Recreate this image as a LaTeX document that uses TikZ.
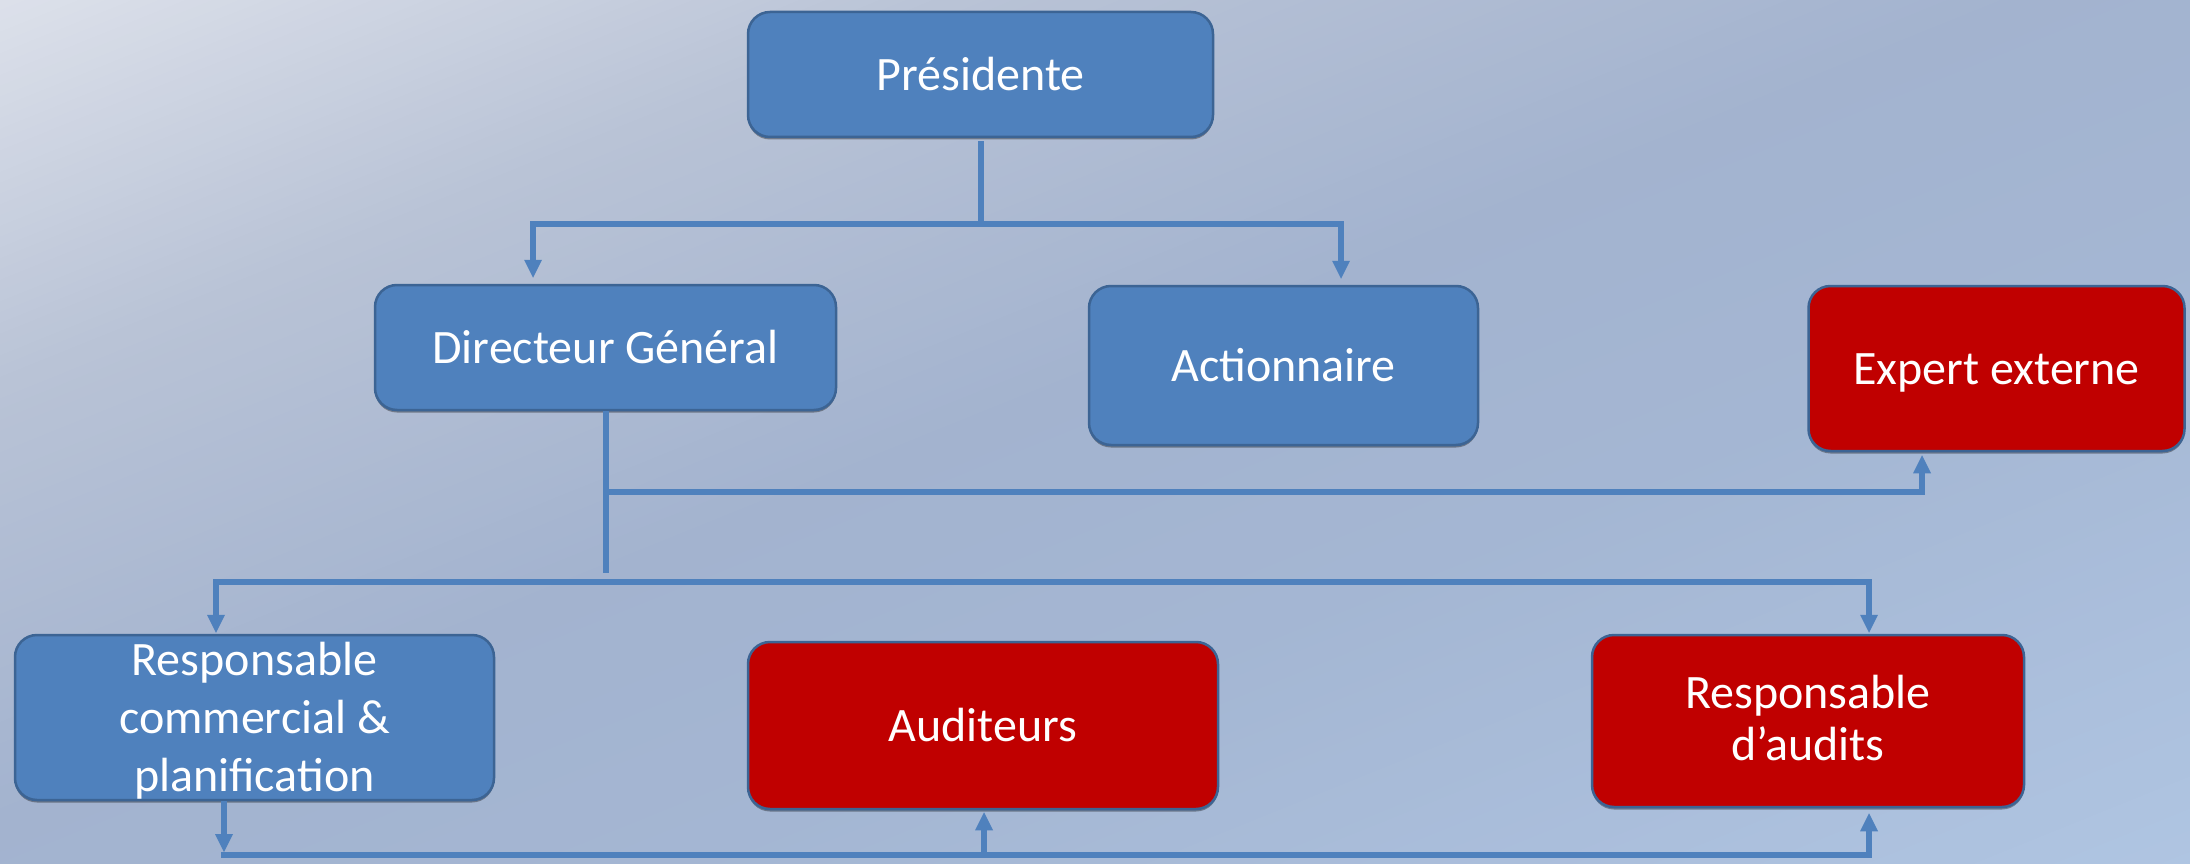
\documentclass[tikz,border=0pt]{standalone}
\usepackage{fontspec}
\setmainfont{Carlito}
\usetikzlibrary{arrows.meta,shadows}
\definecolor{bgA}{HTML}{DCE0EA}
\definecolor{bgB}{HTML}{B9C3D6}
\definecolor{bgC}{HTML}{A3B3CF}
\definecolor{bgD}{HTML}{A4B6D3}
\definecolor{bgE}{HTML}{B1C7E4}
\definecolor{boxblue}{HTML}{4F81BD}
\definecolor{boxred}{HTML}{C00000}
\definecolor{boxedge}{HTML}{3C6494}
\definecolor{conn}{HTML}{4F81BD}
\begin{document}
\begin{tikzpicture}[x=1pt,y=-1pt,
  box/.style={draw=boxedge, line width=2.5pt, rounded corners=22pt, text=white,
    font=\fontsize{48}{52}\selectfont, inner sep=0pt, align=center,
    drop shadow={shadow xshift=0pt, shadow yshift=-2.5pt, opacity=0.35, fill=black}},
  one/.style={text height=32pt, text depth=0pt},
  bluebox/.style={box, fill=boxblue},
  redbox/.style={box, fill=boxred},
  conline/.style={draw=conn, line width=6pt},
  arr/.style={conline, -{Triangle[width=18pt,length=18pt,line width=0pt]}}
]
\useasboundingbox (0,0) rectangle (2190,864);
% background gradient
\begin{scope}
  \clip (0,0) rectangle (2190,864);
  \begin{scope}[rotate=-68]
    \foreach \p in {0,10,...,340} {
      \pgfmathtruncatemacro\t{\p/3.5}
      \fill[bgB!\t!bgA] (\p,-3000) rectangle (\p+12,3000);
    }
    \foreach \p in {350,360,...,740} {
      \pgfmathtruncatemacro\t{(\p-350)/4}
      \fill[bgC!\t!bgB] (\p,-3000) rectangle (\p+12,3000);
    }
    \foreach \p in {750,760,...,1040} {
      \pgfmathtruncatemacro\t{(\p-750)/3}
      \fill[bgD!\t!bgC] (\p,-3000) rectangle (\p+12,3000);
    }
    \foreach \p in {1050,1060,...,1700} {
      \pgfmathtruncatemacro\t{(\p-1050)/6.5}
      \fill[bgE!\t!bgD] (\p,-3000) rectangle (\p+12,3000);
    }
  \end{scope}
\end{scope}

% boxes
\node[bluebox, one, minimum width=465pt, minimum height=125pt] (pres) at (980.5,74.5) {Présidente};
\node[bluebox, one, minimum width=461pt, minimum height=125pt] (dg) at (605.5,347.5) {Directeur Général};
\node[bluebox, one, minimum width=389pt, minimum height=159pt] (act) at (1283.5,365.5) {Actionnaire};
\node[redbox, one, minimum width=376pt, minimum height=165pt] (exp) at (1996.5,368.5) {Expert externe};
\node[bluebox, minimum width=479pt, minimum height=165pt, font=\fontsize{48}{58}\selectfont,
  text height=151pt, text depth=4pt] (com) at (254.5,717.5) {Responsable\\commercial \&\\planification};
\node[redbox, one, minimum width=470pt, minimum height=167pt] (aud) at (983,725.5) {Auditeurs};
\node[redbox, minimum width=432pt, minimum height=172pt, text height=84pt, text depth=6pt] (rda) at (1808,721) {Responsable\\d’audits};

% connector coordinates
\coordinate (y1) at (0,223.5);
\coordinate (l1) at (533,223.5);
\coordinate (r1) at (1341,223.5);
\coordinate (y2) at (0,492);
\coordinate (r2) at (1922,492);
\coordinate (y2e) at (0,573);
\coordinate (y3) at (0,581.5);
\coordinate (l3) at (216,581.5);
\coordinate (r3) at (1869,581.5);
\coordinate (a4) at (224,852);
\coordinate (l4) at (221,854.5);
\coordinate (m4) at (984,854.5);
\coordinate (r4) at (1869,854.5);

% Présidente
\draw[conline] ([yshift=-3pt]pres.south) -- (pres.south |- y1);
\draw[arr] (pres.south |- y1) -- (l1) -- ([yshift=6pt]dg.north -| l1);
\draw[arr] (pres.south |- y1) -- (r1) -- ([yshift=6pt]act.north -| r1);

% Directeur Général
\draw[conline] (dg.south) -- (dg.south |- y2e);
\draw[arr] (dg.south |- y2) -- (r2) -- ([yshift=-3pt]exp.south -| r2);
\draw[arr] (dg.south |- y3) -- (l3) -- ([yshift=1pt]com.north -| l3);
\draw[arr] (dg.south |- y3) -- (r3) -- ([yshift=1pt]rda.north -| r3);

% bottom bus
\draw[arr] (com.south -| a4) -- (a4);
\draw[arr] (l4) -- (m4) -- ([yshift=-2pt]aud.south -| m4);
\draw[arr] (l4) -- (r4) -- ([yshift=-5pt]rda.south -| r4);
\end{tikzpicture}
\end{document}
